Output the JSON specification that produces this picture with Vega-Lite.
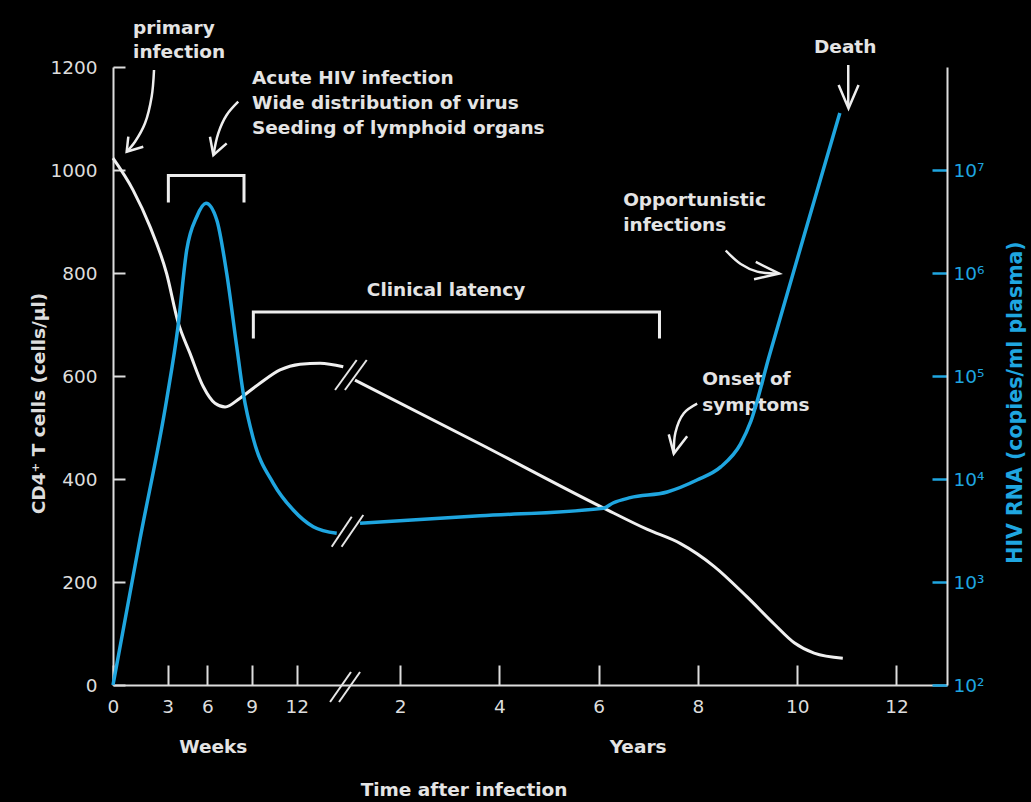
{
  "$schema": "https://vega.github.io/schema/vega-lite/v6.json",
  "width": 834,
  "height": 618,
  "autosize": {"type": "none"},
  "padding": {"left": 113, "top": 67, "right": 84, "bottom": 117},
  "background": "black",
  "config": {
    "view": {"stroke": null},
    "text": {"font": "DejaVu Sans"},
    "axis": {"grid": false, "labelFont": "DejaVu Sans", "titleFont": "DejaVu Sans"}
  },
  "datasets": {
    "cd4": [
      {"week": 0, "v": 1023, "seg": "a"},
      {"week": 1.1, "v": 961, "seg": "a"},
      {"week": 2.03, "v": 890, "seg": "a"},
      {"week": 2.94, "v": 799, "seg": "a"},
      {"week": 3.78, "v": 705, "seg": "a"},
      {"week": 4.69, "v": 644, "seg": "a"},
      {"week": 5.7, "v": 579, "seg": "a"},
      {"week": 6.52, "v": 547, "seg": "a"},
      {"week": 7.2, "v": 540, "seg": "a"},
      {"week": 8.21, "v": 557, "seg": "a"},
      {"week": 9.55, "v": 586, "seg": "a"},
      {"week": 10.89, "v": 612, "seg": "a"},
      {"week": 12.26, "v": 623, "seg": "a"},
      {"week": 13.82, "v": 625, "seg": "a"},
      {"week": 15.63, "v": 618, "seg": "a"},
      {"week": 56.6, "v": 592, "seg": "b"},
      {"week": 187.7, "v": 468, "seg": "b"},
      {"week": 316.7, "v": 344, "seg": "b"},
      {"week": 363, "v": 302, "seg": "b"},
      {"week": 397.3, "v": 275, "seg": "b"},
      {"week": 433.2, "v": 230, "seg": "b"},
      {"week": 467.5, "v": 171, "seg": "b"},
      {"week": 496.1, "v": 118, "seg": "b"},
      {"week": 516.9, "v": 82, "seg": "b"},
      {"week": 537.7, "v": 62, "seg": "b"},
      {"week": 567.8, "v": 52, "seg": "b"}
    ],
    "rna": [
      {"week": 0, "copies": 100, "seg": "a"},
      {"week": 1.46, "copies": 2500, "seg": "a"},
      {"week": 2.94, "copies": 58480, "seg": "a"},
      {"week": 3.78, "copies": 301000, "seg": "a"},
      {"week": 4.44, "copies": 1670000, "seg": "a"},
      {"week": 5.2, "copies": 3520000, "seg": "a"},
      {"week": 5.9, "copies": 4750000, "seg": "a"},
      {"week": 6.64, "copies": 3270000, "seg": "a"},
      {"week": 7.31, "copies": 993000, "seg": "a"},
      {"week": 7.99, "copies": 192000, "seg": "a"},
      {"week": 8.43, "copies": 67900, "seg": "a"},
      {"week": 9.11, "copies": 24500, "seg": "a"},
      {"week": 10.44, "copies": 9080, "seg": "a"},
      {"week": 11.77, "copies": 5000, "seg": "a"},
      {"week": 13.29, "copies": 3440, "seg": "a"},
      {"week": 15.12, "copies": 2970, "seg": "a"},
      {"week": 61.9, "copies": 3720, "seg": "b"},
      {"week": 187.7, "copies": 4390, "seg": "b"},
      {"week": 316.7, "copies": 5200, "seg": "b"},
      {"week": 327, "copies": 5850, "seg": "b"},
      {"week": 345, "copies": 6590, "seg": "b"},
      {"week": 383.8, "copies": 7480, "seg": "b"},
      {"week": 415, "copies": 9770, "seg": "b"},
      {"week": 439.9, "copies": 13100, "seg": "b"},
      {"week": 460.7, "copies": 21900, "seg": "b"},
      {"week": 471.6, "copies": 36600, "seg": "b"},
      {"week": 490.4, "copies": 152800, "seg": "b"},
      {"week": 537.7, "copies": 4970000, "seg": "b"},
      {"week": 564.7, "copies": 35700000, "seg": "b"}
    ],
    "brackets": [
      {"id": "acute", "ord": 0, "week": 3.05, "v": 939.8},
      {"id": "acute", "ord": 1, "week": 3.05, "v": 989.3},
      {"id": "acute", "ord": 2, "week": 8.48, "v": 989.3},
      {"id": "acute", "ord": 3, "week": 8.48, "v": 939.8},
      {"id": "latency", "ord": 0, "week": 9.11, "v": 675.7},
      {"id": "latency", "ord": 1, "week": 9.11, "v": 724.3},
      {"id": "latency", "ord": 2, "week": 375.7, "v": 724.3},
      {"id": "latency", "ord": 3, "week": 375.7, "v": 675.7}
    ],
    "arrows": [
      {"id": "primary", "ord": 0, "week": 2.25, "v": 1194.2},
      {"id": "primary", "ord": 1, "week": 2.12, "v": 1142.3},
      {"id": "primary", "ord": 2, "week": 1.755, "v": 1090.7},
      {"id": "primary", "ord": 3, "week": 1.207, "v": 1055},
      {"id": "primary", "ord": 4, "week": 0.75, "v": 1035.5},
      {"id": "acute", "ord": 0, "week": 8.09, "v": 1132.6},
      {"id": "acute", "ord": 1, "week": 7.31, "v": 1106.8},
      {"id": "acute", "ord": 2, "week": 6.74, "v": 1071.3},
      {"id": "acute", "ord": 3, "week": 6.41, "v": 1029.1},
      {"id": "opp", "ord": 0, "week": 445.1, "v": 843.7},
      {"id": "opp", "ord": 1, "week": 460.8, "v": 817.5},
      {"id": "opp", "ord": 2, "week": 478.1, "v": 802.7},
      {"id": "opp", "ord": 3, "week": 501.2, "v": 799},
      {"id": "onset", "ord": 0, "week": 415.2, "v": 546.2},
      {"id": "onset", "ord": 1, "week": 401.2, "v": 527.6},
      {"id": "onset", "ord": 2, "week": 392.4, "v": 490.3},
      {"id": "onset", "ord": 3, "week": 390.7, "v": 449.3},
      {"id": "death", "ord": 0, "week": 573.5, "v": 1203.9},
      {"id": "death", "ord": 1, "week": 573.5, "v": 1120.4}
    ],
    "heads": [
      {"id": "primary", "ord": 0, "week": 0.84, "v": 1064.7},
      {"id": "primary", "ord": 1, "week": 0.75, "v": 1035.5},
      {"id": "primary", "ord": 2, "week": 1.66, "v": 1045.2},
      {"id": "acute", "ord": 0, "week": 6.18, "v": 1064.7},
      {"id": "acute", "ord": 1, "week": 6.41, "v": 1029.1},
      {"id": "acute", "ord": 2, "week": 7.31, "v": 1051.8},
      {"id": "opp", "ord": 0, "week": 476.6, "v": 821.4},
      {"id": "opp", "ord": 1, "week": 501.2, "v": 799},
      {"id": "opp", "ord": 2, "week": 474.8, "v": 787.9},
      {"id": "onset", "ord": 0, "week": 385.4, "v": 486.6},
      {"id": "onset", "ord": 1, "week": 390.7, "v": 449.3},
      {"id": "onset", "ord": 2, "week": 404.7, "v": 482.9},
      {"id": "death", "ord": 0, "week": 563.4, "v": 1165},
      {"id": "death", "ord": 1, "week": 573.8, "v": 1119.8},
      {"id": "death", "ord": 2, "week": 584.3, "v": 1165}
    ],
    "breaks": [
      {"id": "ax1", "week": 14.6, "v": -33},
      {"id": "ax1", "week": 52.4, "v": 25.2},
      {"id": "ax2", "week": 15.3, "v": -33},
      {"id": "ax2", "week": 61.9, "v": 25.2},
      {"id": "w1", "week": 14.99, "v": 572.8},
      {"id": "w1", "week": 58.4, "v": 631.1},
      {"id": "w2", "week": 15.76, "v": 572.8},
      {"id": "w2", "week": 68.9, "v": 631.1},
      {"id": "b1", "week": 14.73, "v": 268.5},
      {"id": "b1", "week": 53.2, "v": 326.8},
      {"id": "b2", "week": 15.5, "v": 268.5},
      {"id": "b2", "week": 65.3, "v": 330.1}
    ],
    "notesLeft": [
      {"week": 1.1, "v": 1275.7, "label": "primary"},
      {"week": 1.1, "v": 1229, "label": "infection"},
      {"week": 9.02, "v": 1178.6, "label": "Acute HIV infection"},
      {"week": 9.02, "v": 1130, "label": "Wide  distribution of virus"},
      {"week": 9.02, "v": 1081.6, "label": "Seeding of lymphoid organs"},
      {"week": 337.6, "v": 942.7, "label": "Opportunistic"},
      {"week": 337.6, "v": 893.2, "label": "infections"},
      {"week": 420.4, "v": 594.2, "label": "Onset of"},
      {"week": 420.4, "v": 543.7, "label": "symptoms"}
    ],
    "notesCenter": [
      {"week": 570.3, "v": 1238.8, "label": "Death"},
      {"week": 152, "v": 767, "label": "Clinical latency"},
      {"week": 6.4, "v": -120.4, "label": "Weeks"},
      {"week": 353.3, "v": -120.4, "label": "Years"},
      {"week": 170.9, "v": -203.9, "label": "Time after infection"}
    ]
  },
  "encoding": {
    "x": {
      "field": "week",
      "type": "quantitative",
      "scale": {
        "type": "linear",
        "domain": [0, 3, 6, 9, 12, 16, 52, 677],
        "range": [0, 54.7, 94.3, 138.7, 183.7, 235, 237.6, 834],
        "nice": false,
        "zero": false
      },
      "axis": {
        "values": [0, 3, 6, 9, 12, 104, 208, 312, 416, 520, 624],
        "labelExpr": "'' + (datum.value <= 12 ? datum.value : round(datum.value / 52))",
        "title": null,
        "tickSize": -20,
        "tickWidth": 2,
        "tickColor": "#dddddd",
        "domainColor": "#dddddd",
        "domainWidth": 2,
        "labelPadding": 32,
        "labelFlush": false,
        "labelOverlap": false,
        "labelColor": "#dddddd",
        "labelFontSize": 18.5
      }
    }
  },
  "layer": [
    {
      "encoding": {
        "y": {
          "field": "v",
          "type": "quantitative",
          "scale": {"domain": [0, 1200], "nice": false, "zero": false},
          "axis": {
            "values": [0, 200, 400, 600, 800, 1000, 1200],
            "format": "d",
            "title": "CD4⁺ T cells (cells/µl)",
            "titleColor": "#dddddd",
            "titleFontSize": 18.5,
            "titleFontWeight": "bold",
            "titleX": -75,
            "titleY": 336,
            "titleAngle": 270,
            "titleAlign": "center",
            "titleBaseline": "middle",
            "tickSize": -12,
            "tickWidth": 2,
            "tickColor": "#dddddd",
            "domainColor": "#dddddd",
            "domainWidth": 2,
            "labelPadding": 28,
            "labelFlush": false,
            "labelOverlap": false,
            "labelColor": "#dddddd",
            "labelFontSize": 18.5
          }
        }
      },
      "layer": [
        {
          "data": {"name": "cd4"},
          "mark": {"type": "line", "color": "#f0f0f0", "strokeWidth": 3, "interpolate": "monotone"},
          "encoding": {"detail": {"field": "seg"}}
        },
        {
          "data": {"name": "brackets"},
          "mark": {"type": "line", "color": "#eeeeee", "strokeWidth": 3, "strokeJoin": "miter", "strokeCap": "square"},
          "encoding": {"detail": {"field": "id"}, "order": {"field": "ord"}}
        },
        {
          "data": {"name": "arrows"},
          "mark": {"type": "line", "color": "#eeeeee", "strokeWidth": 2.5, "interpolate": "catmull-rom"},
          "encoding": {"detail": {"field": "id"}, "order": {"field": "ord"}}
        },
        {
          "data": {"name": "heads"},
          "mark": {"type": "line", "color": "#eeeeee", "strokeWidth": 2.5, "strokeJoin": "miter"},
          "encoding": {"detail": {"field": "id"}, "order": {"field": "ord"}}
        },
        {
          "data": {"name": "breaks"},
          "mark": {"type": "line", "color": "#e6e6e6", "strokeWidth": 2},
          "encoding": {"detail": {"field": "id"}}
        },
        {
          "data": {"name": "notesLeft"},
          "mark": {"type": "text", "align": "left", "baseline": "middle", "font": "DejaVu Sans", "fontWeight": "bold", "fontSize": 18.5, "color": "#e4e4e4"},
          "encoding": {"text": {"field": "label"}}
        },
        {
          "data": {"name": "notesCenter"},
          "mark": {"type": "text", "align": "center", "baseline": "middle", "font": "DejaVu Sans", "fontWeight": "bold", "fontSize": 18.5, "color": "#e4e4e4"},
          "encoding": {"text": {"field": "label"}}
        }
      ]
    },
    {
      "data": {"name": "rna"},
      "mark": {"type": "line", "color": "#1fa6e0", "strokeWidth": 3.5, "interpolate": "monotone"},
      "encoding": {
        "y": {
          "field": "copies",
          "type": "quantitative",
          "scale": {"type": "log", "domain": [100, 100000000], "nice": false},
          "axis": {
            "orient": "right",
            "values": [100, 1000, 10000, 100000, 1000000, 10000000],
            "labelExpr": "'10' + ['⁰','¹','²','³','⁴','⁵','⁶','⁷','⁸'][round(log(datum.value) / LN10)]",
            "title": "HIV RNA (copies/ml plasma)",
            "titleColor": "#1fa6e0",
            "titleFontSize": 20.5,
            "titleFontWeight": "bold",
            "titleX": 68,
            "titleY": 335,
            "titleAngle": 270,
            "titleAlign": "center",
            "titleBaseline": "middle",
            "tickSize": -15,
            "tickWidth": 2.5,
            "tickColor": "#1fa6e0",
            "domainColor": "#dddddd",
            "domainWidth": 2,
            "labelPadding": 21,
            "labelFlush": false,
            "labelOverlap": false,
            "labelColor": "#1fa6e0",
            "labelFontSize": 18.5
          }
        },
        "detail": {"field": "seg"}
      }
    }
  ],
  "resolve": {"scale": {"y": "independent"}, "axis": {"y": "independent"}}
}
